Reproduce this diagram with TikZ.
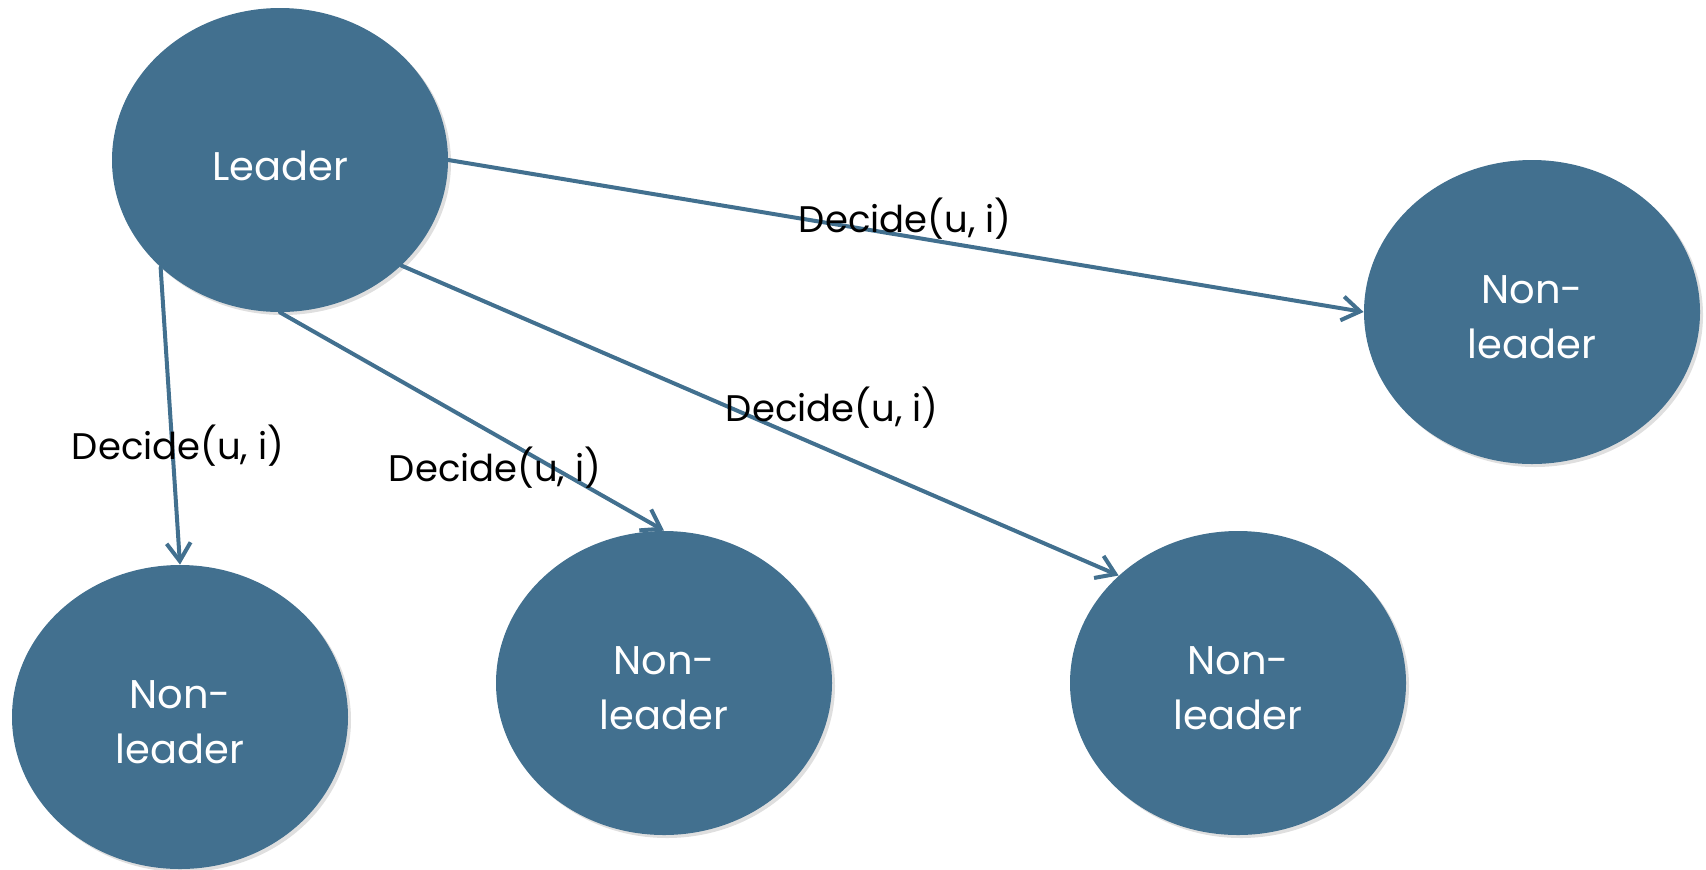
\documentclass[tikz,border=0pt]{standalone}
\usepackage{fontspec}
\setmainfont{Poppins}
\usetikzlibrary{shapes.geometric,arrows.meta,shadows}
\definecolor{nodeblue}{RGB}{66,112,143}
\begin{document}
\begin{tikzpicture}[x=0.5pt,y=-0.5pt,
  blob/.style={ellipse,fill=nodeblue,draw=none,minimum width=168pt,minimum height=152pt,inner sep=0pt,
    drop shadow={opacity=0.25,shadow xshift=1.5pt,shadow yshift=-1.5pt}},
  blobtext/.style={text=white,align=center,font=\fontsize{20}{27.5}\selectfont,inner sep=0pt,yshift=-2.7pt},
  msg/.style={-{Straight Barb[length=9pt,width=12pt,line width=2pt]},line width=2pt,draw=nodeblue,line cap=round},
  lbl/.style={text=black,font=\fontsize{18.5}{22}\selectfont,inner sep=0pt}]
\useasboundingbox (0,0) rectangle (1706,869);
\node[blob] (L) at (280,160) {};
\node[blob] (R) at (1532,312) {};
\node[blob] (BL) at (180,717) {};
\node[blob] (BM) at (664,683) {};
\node[blob] (BR) at (1238,683) {};
\node[blobtext] (Lt) at (L) {Leader};
\node[blobtext] (Rt) at (R) {Non-\\leader};
\node[blobtext] (BLt) at (BL) {Non-\\leader};
\node[blobtext] (BMt) at (BM) {Non-\\leader};
\node[blobtext] (BRt) at (BR) {Non-\\leader};
\draw[msg] (L.-0.5) -- (R.west);
\draw[msg] (L.-41.5) -- (BR.138);
\draw[msg] (L.south) -- (BM.north);
\draw[msg] (L.-138) -- (BL.north);
\node[lbl] (t1) at (905,219) {Decide(u, i)};
\node[lbl] (t2) at (832,408) {Decide(u, i)};
\node[lbl] (t3) at (178,446) {Decide(u, i)};
\node[lbl] (t4) at (495,468) {Decide(u, i)};
\end{tikzpicture}
\end{document}
